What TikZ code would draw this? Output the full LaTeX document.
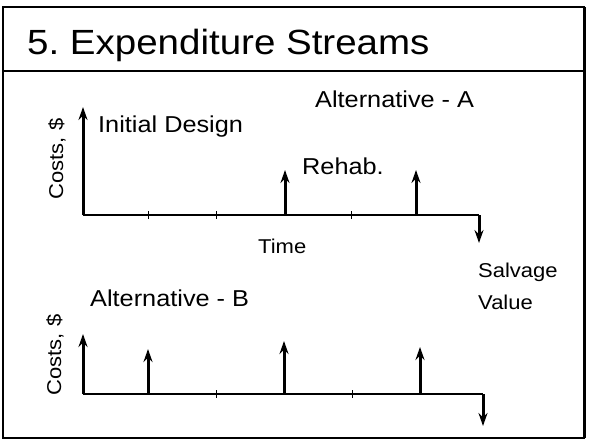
\documentclass[tikz,border=0pt]{standalone}
\usepackage{fontspec}
\setmainfont{Liberation Sans}[FakeStretch=1.1]
\usetikzlibrary{arrows.meta,positioning}
\tikzset{
      label node/.style={font=\fontsize{23}{27}\selectfont, anchor=base west, inner sep=0pt},
      small node/.style={font=\fontsize{20}{24}\selectfont, anchor=base west, inner sep=0pt},
      axisline/.style  = {black, line width=1.8pt},
      cashflow/.style  = {black, line width=3pt, -{Stealth[length=13pt,width=9pt]}},
      tickmark/.style  = {black, line width=1pt},
    }

\begin{document}
\begin{tikzpicture}[x=1pt, y=-1pt]
            \useasboundingbox (0,0) rectangle (589,441);
            % frame and title
            \draw[line width=1.6pt] (3,7) rectangle (584,438);
            \draw[line width=3pt] (584,7) -- (584,438);
            \draw[line width=2.6pt] (3,71) -- (584,71);
            \node [anchor=base west, inner sep=0pt, font=\fontsize{35}{40}\selectfont] (title) at (27,55) {5.\ Expenditure Streams};

            % alternative A
            \coordinate (a0) at (83,215);
            \coordinate (a1) at (285,215);
            \coordinate (a2) at (416,215);
            \coordinate (aend) at (479,215);
            \coordinate (a0top) at (83,107);
            \coordinate (a1top) at (285,170);
            \coordinate (a2top) at (416,170);
            \coordinate (aendbot) at (479,243);
            \draw[axisline] (a0) -- (aend);
            \foreach \x in {148,216,351}
                \draw[tickmark] (\x,211) -- (\x,219);
            \draw[cashflow] (a0) -- (a0top);
            \draw[cashflow] (a1) -- (a1top);
            \draw[cashflow] (a2) -- (a2top);
            \draw[cashflow] (aend) -- (aendbot);

            \node [label node] (init)  at (98,132)  {Initial Design};
            \node [label node] (altA)  at (315,108) {Alternative - A};
            \node [label node] (rehab) at (302,175) {Rehab.};
            \node [small node] (time)  at (258,253) {Time};
            \node [small node] (salv)  at (478,277) {Salvage};
            \node [small node] (val)   at (478,309) {Value};
            \node [small node, anchor=center, rotate=90] (costA) at (57,159) {Costs, \$};

            % alternative B
            \coordinate (b0) at (83,394);
            \coordinate (b1) at (148,394);
            \coordinate (b2) at (284,394);
            \coordinate (b3) at (420,394);
            \coordinate (bend) at (483,394);
            \coordinate (b0top) at (83,334);
            \coordinate (b1top) at (148,349);
            \coordinate (b2top) at (284,341);
            \coordinate (b3top) at (420,347);
            \coordinate (bendbot) at (483,426);
            \draw[axisline] (b0) -- (bend);
            \foreach \x in {216,352}
                \draw[tickmark] (\x,390) -- (\x,398);
            \draw[cashflow] (b0) -- (b0top);
            \draw[cashflow] (b1) -- (b1top);
            \draw[cashflow] (b2) -- (b2top);
            \draw[cashflow] (b3) -- (b3top);
            \draw[cashflow] (bend) -- (bendbot);

            \node [label node] (altB) at (90,306) {Alternative - B};
            \node [small node, anchor=center, rotate=90] (costB) at (55,355) {Costs, \$};
\end{tikzpicture}
\end{document}
